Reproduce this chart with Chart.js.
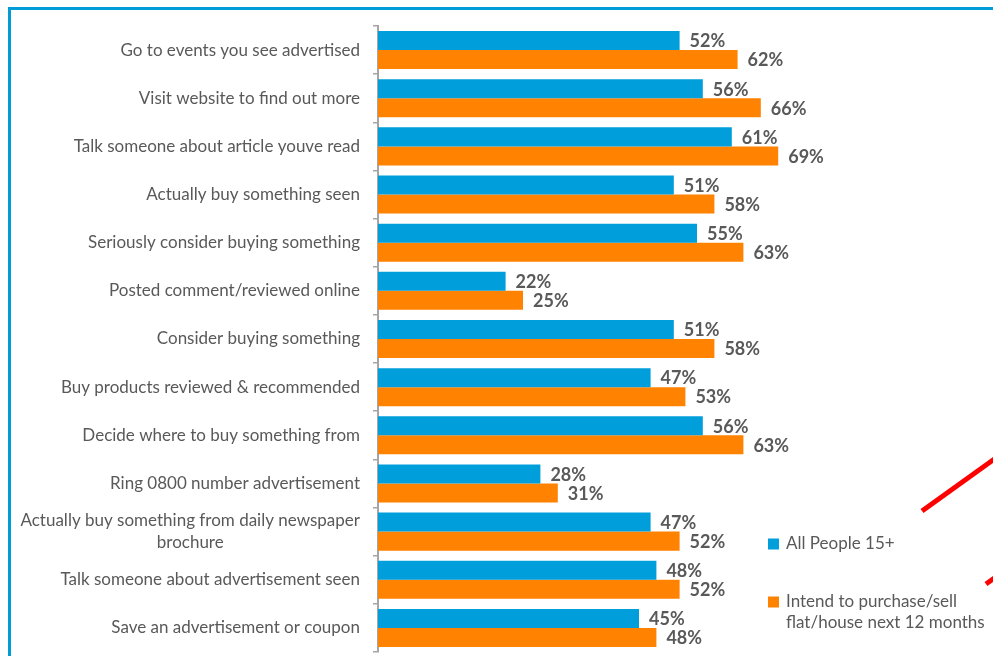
<!DOCTYPE html>
<html>
<head>
<meta charset="utf-8">
<script src="https://cdn.jsdelivr.net/npm/chart.js@4.4.1/dist/chart.umd.min.js"></script>
<style>
    html, body { margin: 0; padding: 0; background: #fff; overflow: hidden; }
    #wrap { position: relative; width: 993px; height: 656px; overflow: hidden; }
    #frame { position: absolute; left: 8px; top: 7px; width: 1100px; height: 800px;
             border-left: 3px solid #009cd8; border-top: 3px solid #009cd8; }
    #reach { position: absolute; left: 0; top: 0; }
    #marks { position: absolute; left: 0; top: 0; pointer-events: none; }
</style>
</head>
<body>
<div id="wrap">
    <div id="frame"></div>
    <canvas id="reach" width="993" height="656"></canvas>
    <svg id="marks" width="993" height="656">
        <line x1="922" y1="511" x2="1000" y2="455" stroke="#ff0000" stroke-width="5"/>
        <line x1="986" y1="584" x2="1000" y2="574" stroke="#ff0000" stroke-width="5"/>
    </svg>
</div>
<script>
const categories = [
    'Go to events you see advertised',
    'Visit website to find out more',
    'Talk someone about article youve read',
    'Actually buy something seen',
    'Seriously consider buying something',
    'Posted comment/reviewed online',
    'Consider buying something',
    'Buy products reviewed & recommended',
    'Decide where to buy something from',
    'Ring 0800 number advertisement',
    ['Actually buy something from daily newspaper', 'brochure'],
    'Talk someone about advertisement seen',
    'Save an advertisement or coupon'
];
const allPeople = [52, 56, 61, 51, 55, 22, 51, 47, 56, 28, 47, 48, 45];
const intendToMove = [62, 66, 69, 58, 63, 25, 58, 53, 63, 31, 52, 52, 48];
const seriesNames = ['All People 15+', ['Intend to purchase/sell', 'flat/house next 12 months']];

const textGrey = '#595959';
const fontFamily = 'Lato, "Open Sans", sans-serif';

// category names drawn next to the axis; wrapped names are centred as a block
const categoryLabels = {
    id: 'categoryLabels',
    afterDraw(chart) {
        const { ctx, scales: { y } } = chart;
        const right = y.right - 18;
        ctx.save();
        ctx.fillStyle = textGrey;
        ctx.font = '17px ' + fontFamily;
        ctx.textBaseline = 'middle';
        categories.forEach((label, i) => {
            const cy = y.getPixelForValue(i);
            const lines = Array.isArray(label) ? label : [label];
            const lineHeight = 22;
            const widest = Math.max(...lines.map(l => ctx.measureText(l).width));
            ctx.textAlign = lines.length > 1 ? 'center' : 'right';
            const x = lines.length > 1 ? right - widest / 2 : right;
            lines.forEach((line, k) => {
                ctx.fillText(line, x, cy + (k - (lines.length - 1) / 2) * lineHeight);
            });
        });
        ctx.restore();
    }
};

// percentage labels at the end of every bar
const valueLabels = {
    id: 'valueLabels',
    afterDatasetsDraw(chart) {
        const { ctx } = chart;
        ctx.save();
        ctx.fillStyle = textGrey;
        ctx.font = 'bold 18px ' + fontFamily;
        ctx.textAlign = 'left';
        ctx.textBaseline = 'middle';
        chart.data.datasets.forEach((ds, di) => {
            chart.getDatasetMeta(di).data.forEach((bar, i) => {
                ctx.fillText(ds.data[i] + '%', bar.x + 10, bar.y + 1);
            });
        });
        ctx.restore();
    }
};

// legend sitting in the empty lower-right part of the plot
const cornerLegend = {
    id: 'cornerLegend',
    afterDraw(chart) {
        const { ctx } = chart;
        const rows = [544, 602];
        ctx.save();
        ctx.font = '17px ' + fontFamily;
        ctx.textAlign = 'left';
        ctx.textBaseline = 'middle';
        chart.data.datasets.forEach((ds, di) => {
            const cy = rows[di];
            ctx.fillStyle = ds.backgroundColor;
            ctx.fillRect(768, cy - 5.5, 11, 11);
            ctx.fillStyle = textGrey;
            const lines = Array.isArray(ds.label) ? ds.label : [ds.label];
            lines.forEach((line, k) => ctx.fillText(line, 786, cy + k * 21));
        });
        ctx.restore();
    }
};

new Chart(document.getElementById('reach').getContext('2d'), {
    type: 'bar',
    data: {
        labels: categories,
        datasets: [{
            label: seriesNames[0],
            data: allPeople,
            backgroundColor: '#009edb',
            barPercentage: 1,
            categoryPercentage: 0.79
        }, {
            label: seriesNames[1],
            data: intendToMove,
            backgroundColor: '#ff8200',
            barPercentage: 1,
            categoryPercentage: 0.79
        }]
    },
    options: {
        indexAxis: 'y',
        responsive: false,
        animation: false,
        layout: { padding: { top: 26, bottom: 4, left: 0, right: 6 } },
        plugins: {
            legend: { display: false },
            tooltip: { enabled: false }
        },
        scales: {
            x: {
                display: false,
                min: 0,
                max: 105
            },
            y: {
                afterFit(scale) { scale.width = 378; },
                ticks: { display: false },
                grid: {
                    offset: true,
                    drawOnChartArea: false,
                    drawTicks: true,
                    tickLength: 5,
                    color: '#a6a6a6',
                    lineWidth: 1.5
                },
                border: { display: true, color: '#a6a6a6', width: 2 }
            }
        }
    },
    plugins: [categoryLabels, valueLabels, cornerLegend]
});
</script>
</body>
</html>
